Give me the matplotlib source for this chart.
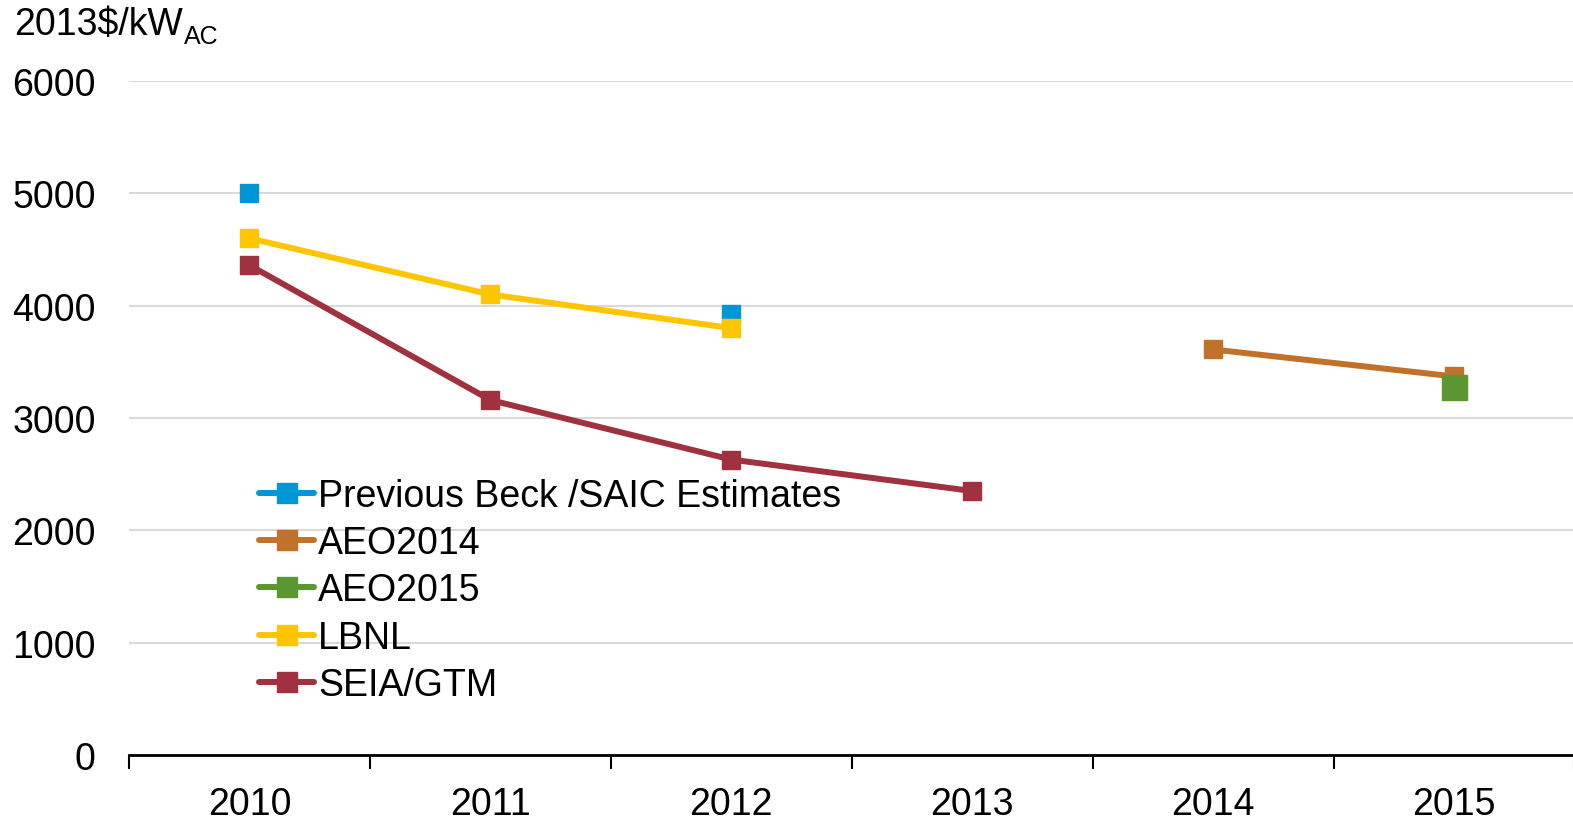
import numpy as np
import matplotlib
matplotlib.use("Agg")
import matplotlib.pyplot as plt

plt.rcParams['font.family'] = ['Liberation Sans', 'DejaVu Sans']

years = ['2010', '2011', '2012', '2013', '2014', '2015']
beck = [5000, np.nan, 3930, np.nan, np.nan, np.nan]
aeo2014 = [np.nan, np.nan, np.nan, np.nan, 3610, 3370]
aeo2015 = [np.nan, np.nan, np.nan, np.nan, np.nan, 3280]
lbnl = [4600, 4100, 3800, np.nan, np.nan, np.nan]
seia = [4360, 3160, 2630, 2350, np.nan, np.nan]
yticks = [0, 1000, 2000, 3000, 4000, 5000, 6000]

series = [
    ('Previous Beck /SAIC Estimates', beck, '#0096d6', 13),
    ('AEO2014', aeo2014, '#c0712a', 13),
    ('AEO2015', aeo2015, '#5b9632', 18),
    ('LBNL', lbnl, '#ffc600', 13),
    ('SEIA/GTM', seia, '#a0313f', 13),
]

FS = 27
fig = plt.figure(figsize=(15.73, 8.20), dpi=100)
ax = fig.add_axes([129/1573, 1-756/820, (1574.5-129)/1573, (756-82)/820])
x = np.arange(len(years))
for label, vals, color, ms in series:
    ax.plot(x, vals, color=color, lw=4.3, marker='s', ms=ms, mec=color,
            label=label, solid_capstyle='round')

ax.set_xlim(-0.5, len(years) - 0.5)
ax.set_ylim(0, 6000)
ax.set_yticks(yticks)
ax.set_yticklabels([str(v) for v in yticks], fontsize=FS)
ax.set_xticks(x)
ax.set_xticklabels(years, fontsize=FS)
ax.set_xticks(np.arange(-0.5, len(years), 1), minor=True)
ax.tick_params(axis='x', which='major', length=0, pad=22)
ax.tick_params(axis='x', which='minor', length=10, width=1.5, direction='out')
ax.tick_params(axis='y', length=0, pad=24)
for s in ['top', 'right', 'left']:
    ax.spines[s].set_visible(False)
ax.spines['bottom'].set_linewidth(2)
ax.grid(axis='y', color='#d9d9d9', lw=1.5)
ax.set_axisbelow(True)

t = fig.text(14/1573, 1-25/820, '2013$/kW', fontsize=FS, va='center', ha='left')
ax.annotate('AC', xy=(1, 0), xycoords=t, xytext=(1, -4), textcoords='offset points',
            fontsize=18, va='bottom', ha='left', annotation_clip=False)

leg = ax.legend(loc='upper left', bbox_to_anchor=(259/1573, 1-479/820), bbox_transform=fig.transFigure,
                frameon=False, fontsize=FS, handlelength=1.47, handletextpad=0.1,
                labelspacing=0.3, borderpad=0, borderaxespad=0)
for h in leg.legend_handles:
    h.set_markersize(14)

fig.savefig('out.png', dpi=100)
